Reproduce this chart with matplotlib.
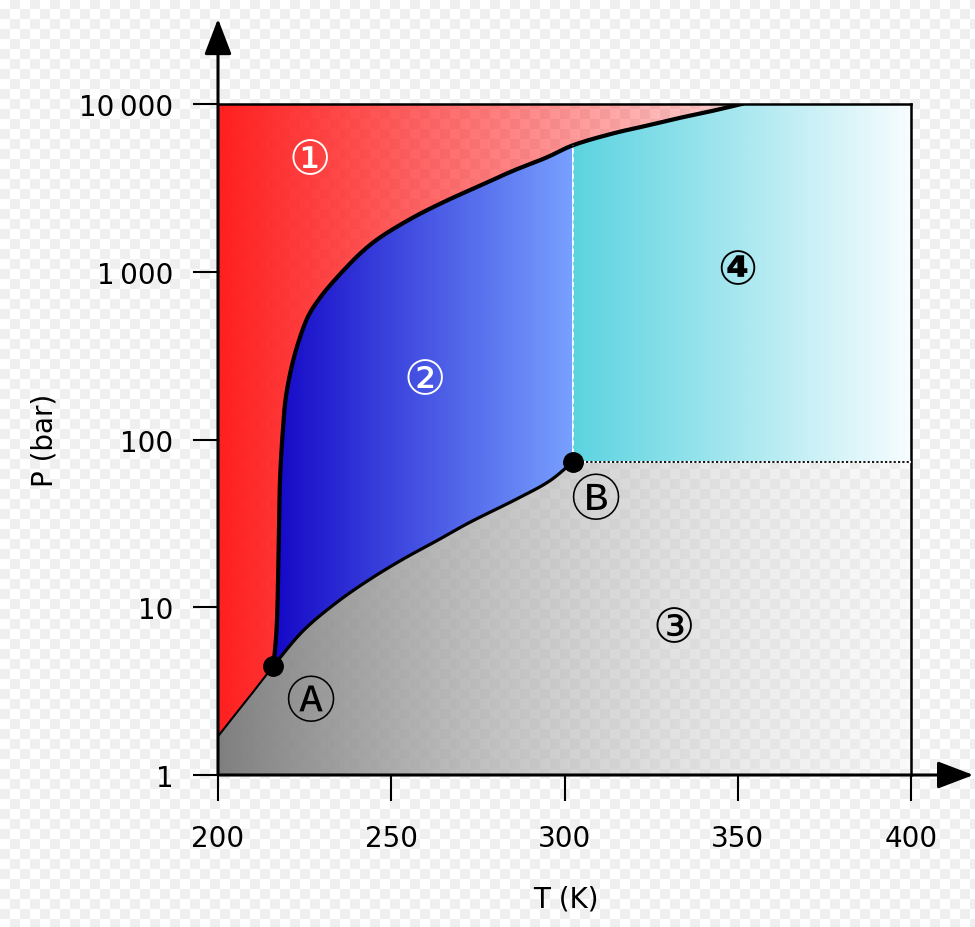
import numpy as np
import matplotlib.pyplot as plt
from matplotlib.patches import Polygon
from matplotlib.ticker import FixedLocator, NullLocator

plt.rcParams['font.family'] = ['DejaVu Sans', 'Noto Sans CJK SC']

# curves (T in K, P in bar)
sub_T = [200, 205, 210, 216.0]
sub_P = [1.7, 2.3, 3.1, 4.48]

vap_T = [216.0, 224.6, 234.3, 243.9, 253.5, 263.1, 272.7, 286.2, 295.8, 302.5]
vap_P = [4.48, 7.25, 10.7, 14.7, 19.4, 24.9, 32.1, 44.2, 56.8, 73.8]

melt_T = [216.0, 216.9, 217.6, 217.9, 218.6, 219.5, 221.1, 223.2, 226.1, 229.9, 235.7, 241.9,
          246.8, 256.4, 266.0, 275.6, 285.2, 294.9, 302.1, 314.1, 323.7, 333.3, 342.9, 351.1]
melt_P = [4.48, 7.4, 29.3, 58.2, 105, 174, 263, 380, 547, 720, 992, 1334,
          1603, 2112, 2655, 3260, 4002, 4808, 5642, 6685, 7425, 8267, 9120, 10000]

triple = (216.0, 4.48)     # A
critical = (302.5, 73.8)   # B

x_ticks = [200, 250, 300, 350, 400]
y_ticks = [1, 10, 100, 1000, 10000]
y_labels = ['1', '10', '100', '1\u2009000', '10\u2009000']

labels = ['\u2460', '\u2461', '\u2462', '\u2463', '\u24b6', '\u24b7']
label_T = [226.6, 259.7, 331.4, 349.9, 226.6, 308.8]
label_P = [4571, 224, 7.42, 1014, 2.69, 43.2]
label_col = ['white', 'white', 'black', 'black', 'black', 'black']


def smooth(T, P, n=10):
    # centripetal Catmull-Rom through the read points, done in screen-like units
    pts = np.column_stack([(np.array(T) - 200) * 3.465, np.log10(P) * 167.75])
    p = np.vstack([2 * pts[0] - pts[1], pts, 2 * pts[-1] - pts[-2]])
    out = []
    for i in range(1, len(p) - 2):
        p0, p1, p2, p3 = p[i - 1], p[i], p[i + 1], p[i + 2]
        t0 = 0
        t1 = t0 + np.linalg.norm(p1 - p0) ** 0.5
        t2 = t1 + np.linalg.norm(p2 - p1) ** 0.5
        t3 = t2 + np.linalg.norm(p3 - p2) ** 0.5
        t = np.linspace(t1, t2, n, endpoint=False)[:, None]
        a1 = (t1 - t) / (t1 - t0) * p0 + (t - t0) / (t1 - t0) * p1
        a2 = (t2 - t) / (t2 - t1) * p1 + (t - t1) / (t2 - t1) * p2
        a3 = (t3 - t) / (t3 - t2) * p2 + (t - t2) / (t3 - t2) * p3
        b1 = (t2 - t) / (t2 - t0) * a1 + (t - t0) / (t2 - t0) * a2
        b2 = (t3 - t) / (t3 - t1) * a2 + (t - t1) / (t3 - t1) * a3
        out.append((t2 - t) / (t2 - t1) * b1 + (t - t1) / (t2 - t1) * b2)
    out.append(pts[-1:])
    c = np.vstack(out)
    return 200 + c[:, 0] / 3.465, 10 ** (c[:, 1] / 167.75)


fig = plt.figure(figsize=(9.75, 9.28), dpi=100)
fig.patch.set_facecolor('white')

# faint checkerboard behind everything (as in the reference)
yy, xx = np.mgrid[0:928, 0:975]
chk = np.where(((xx // 10) + (yy // 10)) % 2 == 0, 1.0, 0.94)
fig.figimage(np.dstack([chk] * 3), xo=0, yo=0, zorder=-10)

ax = fig.add_axes([218 / 975, 152 / 928, 693 / 975, 671 / 928])
ax.set_facecolor('none')
ax.set_yscale('log')


def gradient_fill(verts, t0, t1, c0, c1):
    f = np.linspace(0, 1, 256)[None, :, None]
    img = np.array(c0)[None, None, :] * (1 - f) + np.array(c1)[None, None, :] * f
    im = ax.imshow(img, extent=[t0, t1, 1, 10000], origin='lower', aspect='auto',
                   interpolation='bilinear', zorder=1)
    poly = Polygon(verts, closed=True, transform=ax.transData, fc='none', ec='none')
    im.set_clip_path(poly)


mT, mP = smooth(melt_T, melt_P)
mP = np.minimum(mP, 10000)
vT, vP = smooth(vap_T, vap_P)

Tc, Pc = critical
Pm = 10 ** np.interp(Tc, mT, np.log10(mP))
melt = list(zip(mT, mP))
melt_lo = [p for p in melt if p[0] < Tc]
melt_hi = [p for p in melt if p[0] > Tc]
sub = list(zip(sub_T, sub_P))
vap = list(zip(vT, vP))

solid = sub + melt + [(200, 10000)]
liquid = melt_lo + [(Tc, Pm), (Tc, Pc)] + vap[::-1]
gas = [(200, 1)] + sub + vap + [(400, Pc), (400, 1)]
superc = [(Tc, Pc), (Tc, Pm)] + melt_hi + [(400, 10000), (400, Pc)]

gradient_fill(solid, 200, 351.1, (1, 0.125, 0.125, 1), (1, 0.125, 0.125, 0.2))
gradient_fill(liquid, 216, 302.5, (0.08, 0.03, 0.78, 1), (0.47, 0.63, 1.0, 1))
gradient_fill(gas, 200, 400, (0.5, 0.5, 0.5, 1), (0.94, 0.94, 0.94, 0.3))
gradient_fill(superc, 302.5, 400, (0.36, 0.83, 0.88, 1), (0.97, 0.99, 1.0, 1))

ax.plot(mT, mP, color='black', lw=3, solid_joinstyle='round', zorder=3)
ax.plot(vT, vP, color='black', lw=2.3, solid_joinstyle='round', zorder=3)
ax.plot(sub_T, sub_P, color='black', lw=1.5, zorder=3)
ax.plot([Tc, Tc], [Pc, Pm], color='white', lw=1.2, ls=(0, (3, 2)), zorder=3)
ax.plot([Tc, 400], [Pc, Pc], color='white', lw=1.3, zorder=3)
ax.plot([Tc, 400], [Pc, Pc], color='black', lw=1.3, ls=(0, (1.2, 1.2)), zorder=3)
ax.plot([triple[0], Tc], [triple[1], Pc], 'o', color='black', ms=14, zorder=4)

for s, t, p, c in zip(labels, label_T, label_P, label_col):
    is_letter = s in ('\u24b6', '\u24b7')
    ax.text(t, p, s, color=c, fontsize=36 if is_letter else 34, ha='center', va='center',
            zorder=5, fontweight='bold' if s == '\u2463' else 'normal')

ax.set_xlim(200, 400)
ax.set_ylim(1, 10000)
ax.xaxis.set_major_locator(FixedLocator(x_ticks))
ax.yaxis.set_major_locator(FixedLocator(y_ticks))
ax.yaxis.set_minor_locator(NullLocator())
ax.set_yticklabels(y_labels)
ax.tick_params(axis='x', length=19, width=1.5, pad=16, labelsize=20)
ax.tick_params(axis='y', length=18, width=1.5, pad=14, labelsize=20)

for side in ['left', 'bottom']:
    ax.spines[side].set_visible(False)
for side in ['right', 'top']:
    ax.spines[side].set_linewidth(1.8)

arrow = dict(arrowstyle='-|>,head_length=1.1,head_width=0.42', lw=2.2, color='black',
             mutation_scale=20, shrinkA=0, shrinkB=0)
ax.annotate('', xy=(0, 1.127), xytext=(0, 0), xycoords='axes fraction', arrowprops=arrow,
            annotation_clip=False)
ax.annotate('', xy=(1.09, 0), xytext=(0, 0), xycoords='axes fraction', arrowprops=arrow,
            annotation_clip=False)

fig.text(566 / 975, 1 - 900 / 928, 'T (K)', fontsize=20, ha='center', va='center')
fig.text(45 / 975, 1 - 440 / 928, 'P (bar)', fontsize=20, ha='center', va='center', rotation=90)

fig.savefig('out.png', dpi=100)
